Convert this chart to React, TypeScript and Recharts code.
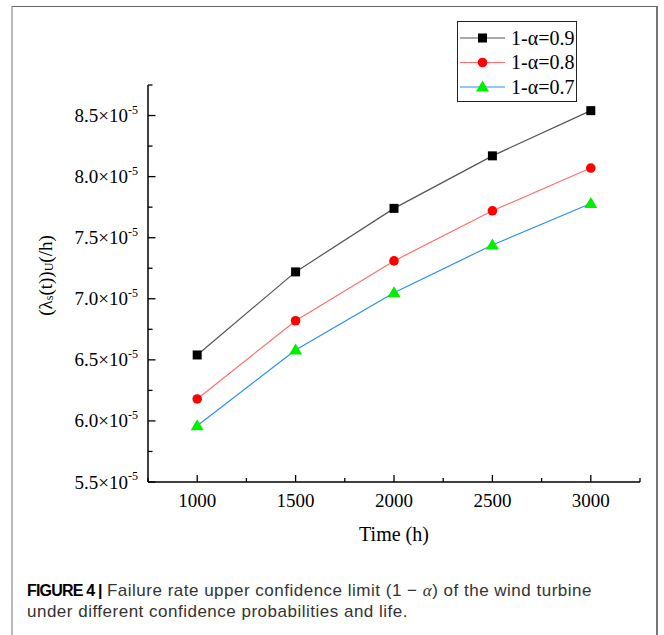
import React from 'react';
import { LineChart, Line, XAxis, YAxis, Legend } from 'recharts';

const times = [1000, 1500, 2000, 2500, 3000];
const s09 = [6.54, 7.22, 7.74, 8.17, 8.54];
const s08 = [6.18, 6.82, 7.31, 7.72, 8.07];
const s07 = [5.96, 6.58, 7.05, 7.44, 7.78];
const seriesNames = ['1-α=0.9', '1-α=0.8', '1-α=0.7'];
const xTicks = [750, 1000, 1250, 1500, 1750, 2000, 2250, 2500, 2750, 3000, 3250];
const yTicks = [5.5, 5.75, 6, 6.25, 6.5, 6.75, 7, 7.25, 7.5, 7.75, 8, 8.25, 8.5, 8.75];
const xLabel = 'Time (h)';

const data = times.map((t, i) => ({ t, a: s09[i], b: s08[i], c: s07[i] }));

const SERIF = '"Liberation Serif", "Times New Roman", serif';

const lineColors = ['#555555', '#ff6f6f', '#2b8ff0'];
const markerColors = ['#000000', '#ff0000', '#00ee00'];

const Marker = ({ kind, cx, cy }: { kind: number; cx: number; cy: number }) => {
  if (kind === 0) {
    return <rect x={cx - 4.5} y={cy - 4.5} width={9} height={9} fill={markerColors[0]} />;
  }
  if (kind === 1) {
    return <circle cx={cx} cy={cy} r={4.8} fill={markerColors[1]} />;
  }
  return (
    <polygon
      points={`${cx},${cy - 6.5} ${cx - 6.5},${cy + 4.5} ${cx + 6.5},${cy + 4.5}`}
      fill={markerColors[2]}
    />
  );
};

const makeDot = (kind: number) => (props: any) => {
  const { cx, cy, index } = props;
  if (cx == null || cy == null) return <g key={index} />;
  return (
    <g key={`d-${kind}-${index}`}>
      <Marker kind={kind} cx={cx} cy={cy} />
    </g>
  );
};

const YTick = (props: any) => {
  const { x, y, payload } = props;
  const v = payload.value as number;
  const major = Math.abs(v * 2 - Math.round(v * 2)) < 1e-6;
  return (
    <g>
      <line x1={x} x2={x + (major ? 7.5 : 4.5)} y1={y} y2={y} stroke="#000" strokeWidth={1.3} />
      {major && (
        <text x={x - 10} y={y + 6.5} textAnchor="end" fontSize={19} fill="#000" fontFamily={SERIF}>
          {v.toFixed(1)}×10
          <tspan dy={-8.5} fontSize={12}>
            -5
          </tspan>
        </text>
      )}
    </g>
  );
};

const XTick = (props: any) => {
  const { x, y, payload } = props;
  const v = payload.value as number;
  const major = v % 500 === 0;
  return (
    <g>
      <line x1={x} x2={x} y1={y} y2={y - (major ? 7 : 4)} stroke="#000" strokeWidth={1.3} />
      {major && v >= 1000 && (
        <text x={x} y={y + 25} textAnchor="middle" fontSize={19} fill="#000" fontFamily={SERIF}>
          {v}
        </text>
      )}
    </g>
  );
};

const XLabel = (props: any) => {
  const vb = props.viewBox || {};
  const cx = vb.x + vb.width / 2;
  return (
    <text x={cx} y={vb.y + 59} textAnchor="middle" fontSize={20} fill="#000" fontFamily={SERIF}>
      {xLabel}
    </text>
  );
};

const YLabel = (props: any) => {
  const vb = props.viewBox || {};
  const x = vb.x - 3;
  const y = vb.y + vb.height / 2 - 8;
  return (
    <text
      x={x}
      y={y}
      transform={`rotate(-90, ${x}, ${y})`}
      textAnchor="middle"
      dominantBaseline="central"
      fontSize={19}
      fill="#000"
      fontFamily={SERIF}
    >
      (λ
      <tspan dy={4} fontSize={12}>s</tspan>
      <tspan dy={-4}>(t))</tspan>
      <tspan dy={4} fontSize={12}>U</tspan>
      <tspan dy={-4}>(/h)</tspan>
    </text>
  );
};

const LegendBox = (props: any) => {
  const payload = ((props.payload || []) as any[])
    .slice()
    .sort((p, q) => seriesNames.indexOf(p.value) - seriesNames.indexOf(q.value));
  return (
    <div
      style={{
        width: 120,
        height: 81,
        boxSizing: 'border-box',
        border: '1.5px solid #222',
        background: '#fff',
      }}
    >
      <svg width={117} height={78} style={{ display: 'block' }}>
        {payload.map((p, i) => {
          const k = seriesNames.indexOf(p.value);
          const cy = 16 + i * 24.5;
          return (
            <g key={i}>
              <line x1={2} x2={47} y1={cy} y2={cy} stroke={lineColors[k]} strokeWidth={1.2} />
              <Marker kind={k} cx={24.5} cy={cy} />
              <text x={53} y={cy + 6.5} fontSize={20} fill="#000" fontFamily={SERIF}>
                {p.value}
              </text>
            </g>
          );
        })}
      </svg>
    </div>
  );
};

export default function App() {
  return (
    <div
      style={{
        position: 'absolute',
        left: 0,
        top: 0,
        width: 664,
        height: 635,
        background: '#fff',
        overflow: 'hidden',
      }}
    >
      <div
        style={{
          position: 'absolute',
          left: 11,
          top: 6,
          width: 647,
          height: 700,
          borderTop: '1.5px solid #666',
          borderLeft: '2px solid #bbb',
          borderRight: '2px solid #777',
          boxSizing: 'border-box',
        }}
      />
      <div style={{ position: 'absolute', left: 0, top: 0 }}>
        <LineChart
          width={664}
          height={560}
          data={data}
          margin={{ top: 85, right: 24, bottom: 48, left: 48 }}
          style={{ fontFamily: SERIF }}
        >
          <XAxis
            dataKey="t"
            type="number"
            domain={[750, 3250]}
            ticks={xTicks}
            interval={0}
            allowDataOverflow
            height={30}
            tickLine={false}
            tickSize={0}
            tickMargin={0}
            tick={<XTick />}
            axisLine={{ stroke: '#000', strokeWidth: 1.5 }}
            label={<XLabel />}
          />
          <YAxis
            type="number"
            domain={[5.5, 8.75]}
            ticks={yTicks}
            interval={0}
            allowDataOverflow
            width={100}
            tickLine={false}
            tickSize={0}
            tickMargin={0}
            tick={<YTick />}
            axisLine={{ stroke: '#000', strokeWidth: 1.5 }}
            label={<YLabel />}
          />
          <Legend
            layout="horizontal"
            verticalAlign="middle"
            align="center"
            content={<LegendBox />}
            wrapperStyle={{ position: 'absolute', left: 457, top: 21, width: 120, height: 81 }}
          />
          <Line
            name={seriesNames[0]}
            dataKey="a"
            stroke={lineColors[0]}
            strokeWidth={1.2}
            dot={makeDot(0)}
            activeDot={false}
            isAnimationActive={false}
          />
          <Line
            name={seriesNames[1]}
            dataKey="b"
            stroke={lineColors[1]}
            strokeWidth={1.2}
            dot={makeDot(1)}
            activeDot={false}
            isAnimationActive={false}
          />
          <Line
            name={seriesNames[2]}
            dataKey="c"
            stroke={lineColors[2]}
            strokeWidth={1.2}
            dot={makeDot(2)}
            activeDot={false}
            isAnimationActive={false}
          />
        </LineChart>
      </div>
      <div
        style={{
          position: 'absolute',
          left: 27,
          top: 580,
          width: 630,
          fontFamily: '"Liberation Sans", Arial, sans-serif',
          fontSize: 17,
          lineHeight: '21px',
          letterSpacing: '0.5px',
          color: '#333',
          whiteSpace: 'nowrap',
        }}
      >
        <b style={{ color: '#000', fontSize: 16, letterSpacing: '-0.8px' }}>FIGURE 4 |</b> Failure rate upper confidence limit (1 − <i style={{ fontFamily: SERIF }}>α</i>) of the wind turbine
        <br />
        under different confidence probabilities and life.
      </div>
    </div>
  );
}
